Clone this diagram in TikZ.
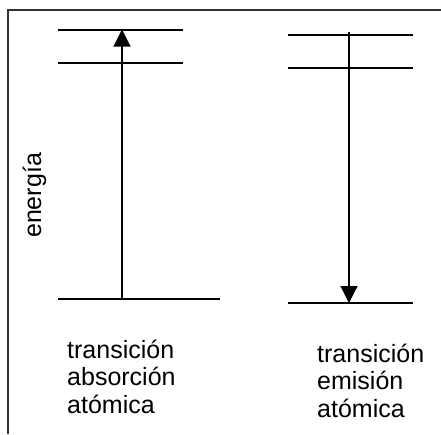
\documentclass[tikz,border=0pt]{standalone}
\usepackage{fontspec}
\setmainfont{Liberation Sans}
\usetikzlibrary{arrows.meta}
\begin{document}
\begin{tikzpicture}[x=1pt, y=-1pt,
		nivel/.style={line width=1.1pt},
		flecha/.style={line width=1.1pt, -{Triangle[length=17pt,width=17pt]}},
		texto/.style={font=\fontsize{25}{27.2}\selectfont, align=left, inner sep=0pt, anchor=base west}]
	\useasboundingbox (0,0) rectangle (441,434);
	
	% Rahmen (nur oben und links)
	\draw[line width=1.1pt, black!80] (441,10) coordinate (MarcoDer) -- (8,10) coordinate (MarcoEsq) -- (8,434) coordinate (MarcoAbajo);
	
	% Niveles absorcion
	\draw[nivel] (58,30) coordinate (AbsAltoI) -- (183,30) coordinate (AbsAltoD);
	\draw[nivel] (58,63) coordinate (AbsMedioI) -- (183,63) coordinate (AbsMedioD);
	\draw[nivel] (58,299) coordinate (AbsBajoI) -- (220,299) coordinate (AbsBajoD);
	
	% Niveles emision
	\draw[nivel] (288,35) coordinate (EmiAltoI) -- (413,35) coordinate (EmiAltoD);
	\draw[nivel] (288,68) coordinate (EmiMedioI) -- (413,68) coordinate (EmiMedioD);
	\draw[nivel] (288,303) coordinate (EmiBajoI) -- (413,303) coordinate (EmiBajoD);
	
	% Pfeile fuer Uebergaenge
	\coordinate (AbsInicio) at (122,299);
	\coordinate (AbsFin) at (122,29.5);
	\draw[flecha] (AbsInicio) -- (AbsFin);
	\coordinate (EmiInicio) at (349,32);
	\coordinate (EmiFin) at (349,303);
	\draw[flecha] (EmiInicio) -- (EmiFin);
	
	% Beschriftung
	\draw (41,238) node[texto, rotate=90] (Energia) {energía};
	\draw (67,413) node[texto] (Absorcion) {transición\\absorción\\atómica};
	\draw (317,417) node[texto] (Emision) {transición\\emisión\\atómica};
\end{tikzpicture}
\end{document}
